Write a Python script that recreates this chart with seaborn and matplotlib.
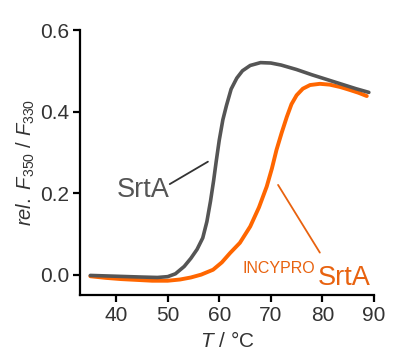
import numpy as np
import pandas as pd
import matplotlib
matplotlib.use("Agg")
import matplotlib.pyplot as plt
import seaborn as sns

# SrtA (gray)
t_srta = [35, 40, 45, 48, 50, 51.5, 53.2, 54.5, 55.7, 56.8, 57.6, 58.3, 58.9, 59.4,
          60.0, 60.7, 61.4, 62.3, 63.4, 64.5, 66, 68, 70, 72, 75, 78, 81, 84, 86.5, 89]
f_srta = [-0.002, -0.004, -0.006, -0.007, -0.005, 0.002, 0.02, 0.04, 0.062, 0.09, 0.13,
          0.18, 0.23, 0.277, 0.33, 0.38, 0.415, 0.455, 0.482, 0.5, 0.513, 0.52, 0.519,
          0.514, 0.503, 0.49, 0.478, 0.466, 0.456, 0.447]

# INCYPRO SrtA (orange)
t_inc = [35, 38, 41, 44, 47, 50, 52.4, 54.5, 56.5, 58.8, 60.5, 62.1, 64.0, 66.0, 67.7,
         69.2, 70.2, 71.1, 72.1, 73.1, 74.0, 75.0, 76.2, 77.6, 79.5, 81.4, 83.5, 85.3, 87, 88.6]
f_inc = [-0.004, -0.008, -0.011, -0.013, -0.015, -0.015, -0.012, -0.007, 0.0, 0.012, 0.03,
         0.053, 0.078, 0.118, 0.165, 0.216, 0.26, 0.306, 0.348, 0.387, 0.418, 0.44, 0.456,
         0.465, 0.468, 0.466, 0.46, 0.453, 0.446, 0.438]

x_ticks = [40, 50, 60, 70, 80, 90]
y_ticks = [0.0, 0.2, 0.4, 0.6]

GRAY = "#555555"
ORANGE = "#ff6600"
ORANGE_TXT = "#e8620f"
TXT = "#333333"

sns.set_style("ticks")
plt.rcParams["font.family"] = ["Liberation Sans", "DejaVu Sans"]
plt.rcParams["mathtext.fontset"] = "custom"
plt.rcParams["mathtext.rm"] = "Liberation Sans"
plt.rcParams["mathtext.it"] = "Liberation Sans:italic"

df1 = pd.DataFrame({"T": t_srta, "F": f_srta})
df2 = pd.DataFrame({"T": t_inc, "F": f_inc})

fig = plt.figure(figsize=(4.08, 3.6), dpi=100)
ax = fig.add_axes([80 / 408, 1 - 295 / 360, (374 - 80) / 408, (295 - 30) / 360])

sns.lineplot(data=df2, x="T", y="F", ax=ax, color=ORANGE, linewidth=2.8)
sns.lineplot(data=df1, x="T", y="F", ax=ax, color=GRAY, linewidth=2.6)

ax.set_xlim(33, 90)
ax.set_ylim(-0.05, 0.6)
ax.set_xticks(x_ticks)
ax.set_yticks(y_ticks)
ax.set_yticklabels([f"{v:.1f}" for v in y_ticks])

for s in ["top", "right"]:
    ax.spines[s].set_visible(False)
for s in ["left", "bottom"]:
    ax.spines[s].set_linewidth(1.6)
    ax.spines[s].set_color("black")
ax.tick_params(axis="both", length=5, width=1.6, color="black", labelsize=15,
               labelcolor=TXT, pad=3)

ax.set_xlabel(r"$\mathit{T}$ / °C", fontsize=15, color=TXT, labelpad=4)
ax.set_ylabel(r"$\mathit{rel.\ F_{350}}$ / $\mathit{F_{330}}$", fontsize=14.5,
              color=TXT, labelpad=2)

# annotations
ax.text(50.4, 0.19, "SrtA", fontsize=19.5, color=GRAY, ha="right", va="baseline")
ax.plot([50.4, 57.8], [0.222, 0.277], color="#333333", linewidth=1.3)

ax.plot([71.4, 79.5], [0.22, 0.054], color=ORANGE_TXT, linewidth=1.3)
ax.text(89.3, -0.026, "SrtA", fontsize=19.5, color=ORANGE_TXT, ha="right", va="baseline")
ax.text(78.6, 0.004, "INCYPRO", fontsize=11.5, color=ORANGE_TXT, ha="right", va="baseline")

fig.savefig("out.png", dpi=100)
